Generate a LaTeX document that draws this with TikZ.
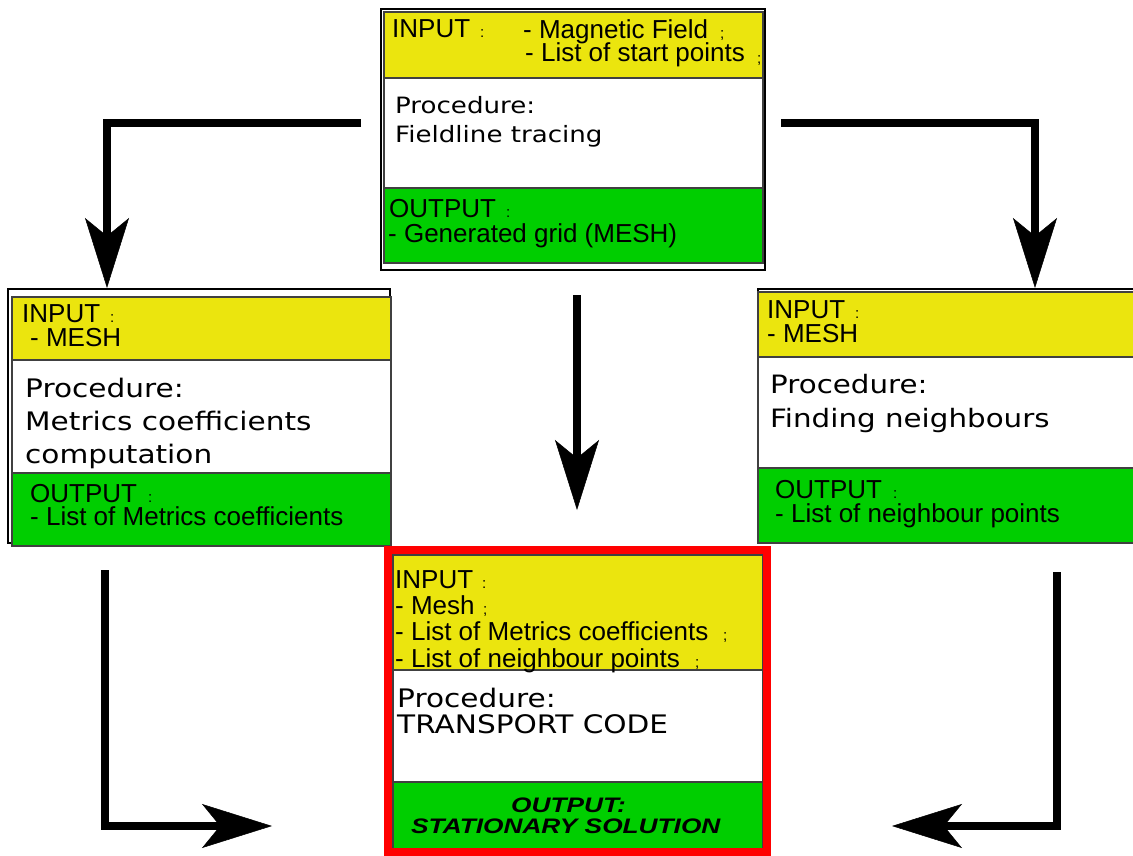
\documentclass[tikz,border=0pt]{standalone}
\usepackage{fontspec}
\setmainfont{Liberation Sans}
\newfontfamily\dejavu[FakeStretch=1.16]{DejaVu Sans}
\newfontfamily\bibfont[FakeStretch=1.25]{Liberation Sans}
\usetikzlibrary{arrows.meta}
\definecolor{ylw}{RGB}{235,229,14}
\definecolor{grn}{RGB}{0,206,0}
\definecolor{redb}{RGB}{255,0,0}
\begin{document}
\begin{tikzpicture}[x=1pt,y=-1pt,
  frame/.style={draw=black, line width=1.2pt, fill=white, inner sep=0, outer sep=0, anchor=north west},
  band/.style={draw=black!75, line width=1.1pt, inner sep=0, outer sep=0, anchor=north west},
  io/.style={anchor=base west, inner sep=0, font=\fontsize{26}{26}\selectfont},
  pr/.style={anchor=base west, inner sep=0, font=\dejavu\fontsize{#1}{#1}\selectfont},
  pu/.style={anchor=base west, inner sep=0, font=\fontsize{15}{15}\selectfont},
  bi/.style={anchor=base west, inner sep=0, font=\bibfont\bfseries\itshape\fontsize{21}{21}\selectfont},
  conn/.style={line width=8pt, line join=miter,
    -{Stealth[length=70pt,width=44pt,inset=18pt,line width=0.5pt]}},
]
\useasboundingbox (0,0) rectangle (1133,856);

% ---------- top box ----------
\node[frame, minimum width=384pt, minimum height=261pt] (tFrame) at (381,9) {};
\node[band, fill=ylw, minimum width=379pt, minimum height=66pt] (tIn) at (384,12) {};
\node[band, fill=white, minimum width=379pt, minimum height=110pt] (tProc) at (384,78) {};
\node[band, fill=grn, minimum width=379pt, minimum height=75pt] (tOut) at (384,188) {};
\node[io] (t1) at (392,38) {INPUT};
\node[pu] (t1p) at (480,38) {:};
\node[io] (t2) at (523,39) {- Magnetic Field};
\node[pu] (t2p) at (720,39) {;};
\node[io] (t3) at (525,62) {- List of start points};
\node[pu] (t3p) at (757,64) {;};
\node[pr=22.5] (t4) at (395,114) {Procedure:};
\node[pr=22.5] (t5) at (395,143) {Fieldline tracing};
\node[io] (t6) at (389,218) {OUTPUT};
\node[pu] (t6p) at (506,218) {:};
\node[io] (t7) at (388,242) {- Generated grid (MESH)};

% ---------- left box ----------
\node[frame, minimum width=382pt, minimum height=254pt] (lFrame) at (8,289) {};
\node[band, fill=ylw, minimum width=379pt, minimum height=63pt] (lIn) at (12,297) {};
\node[band, fill=white, minimum width=379pt, minimum height=113pt] (lProc) at (12,360) {};
\node[band, fill=grn, minimum width=379pt, minimum height=73pt] (lOut) at (12,473) {};
\node[io] (l1) at (22,322) {INPUT};
\node[pu] (l1p) at (110,322) {:};
\node[io] (l2) at (30,346) {- MESH};
\node[pr=25.5] (l3) at (25,397) {Procedure:};
\node[pr=25.5] (l4) at (25,430) {Metrics coefficients};
\node[pr=25.5] (l5) at (25,463) {computation};
\node[io] (l6) at (30,502) {OUTPUT};
\node[pu] (l6p) at (148,502) {:};
\node[io] (l7) at (30,525) {- List of Metrics coefficients};

% ---------- right box ----------
\node[frame, minimum width=382pt, minimum height=254pt] (rFrame) at (758,289) {};
\node[band, fill=ylw, minimum width=380pt, minimum height=65pt] (rIn) at (758,292) {};
\node[band, fill=white, minimum width=380pt, minimum height=111pt] (rProc) at (758,357) {};
\node[band, fill=grn, minimum width=380pt, minimum height=75pt] (rOut) at (758,468) {};
\node[io] (r1) at (767,318) {INPUT};
\node[pu] (r1p) at (855,318) {:};
\node[io] (r2) at (767,342) {- MESH};
\node[pr=25.3] (r3) at (770,393) {Procedure:};
\node[pr=25.3] (r4) at (770,427) {Finding neighbours};
\node[io] (r6) at (775,498) {OUTPUT};
\node[pu] (r6p) at (893,498) {:};
\node[io] (r7) at (775,522) {- List of neighbour points};

% ---------- bottom box ----------
\node[band, fill=ylw, minimum width=370pt, minimum height=115pt] (bIn) at (393,555) {};
\node[band, fill=white, minimum width=370pt, minimum height=112pt] (bProc) at (393,670) {};
\node[band, fill=grn, minimum width=370pt, minimum height=70pt] (bOut) at (393,782) {};
\node[draw=redb, line width=8pt, inner sep=0, outer sep=0, anchor=north west,
      minimum width=379pt, minimum height=302pt] (bFrame) at (388,550) {};
\node[io] (b1) at (395,588) {INPUT};
\node[pu] (b1p) at (482,588) {:};
\node[io] (b2) at (395,614) {- Mesh};
\node[pu] (b2p) at (483,614) {;};
\node[io] (b3) at (395,640) {- List of Metrics coefficients};
\node[pu] (b3p) at (723,640) {;};
\node[io] (b4) at (395,667) {- List of neighbour points};
\node[pu] (b4p) at (695,667) {;};
\node[pr=25.5] (b5) at (397,707) {Procedure:};
\node[pr=25.5] (b6) at (397,733) {TRANSPORT CODE};
\node[bi] (b7) at (511,812) {OUTPUT:};
\node[bi] (b8) at (411,833) {STATIONARY SOLUTION};

% ---------- connectors ----------
\coordinate (a1s) at (361,123);
\coordinate (a1c) at (107,123);
\coordinate (a1e) at (107,288);
\draw[conn] (a1s) -- (a1c) -- (a1e);

\coordinate (a2s) at (781,123);
\coordinate (a2c) at (1035,123);
\coordinate (a2e) at (1035,288);
\draw[conn] (a2s) -- (a2c) -- (a2e);

\coordinate (a3s) at (577,295);
\coordinate (a3e) at (577,510);
\draw[conn] (a3s) -- (a3e);

\coordinate (a4s) at (105,570);
\coordinate (a4c) at (105,826);
\coordinate (a4e) at (272,826);
\draw[conn] (a4s) -- (a4c) -- (a4e);

\coordinate (a5s) at (1057,572);
\coordinate (a5c) at (1057,826);
\coordinate (a5e) at (892,826);
\draw[conn] (a5s) -- (a5c) -- (a5e);
\end{tikzpicture}
\end{document}
